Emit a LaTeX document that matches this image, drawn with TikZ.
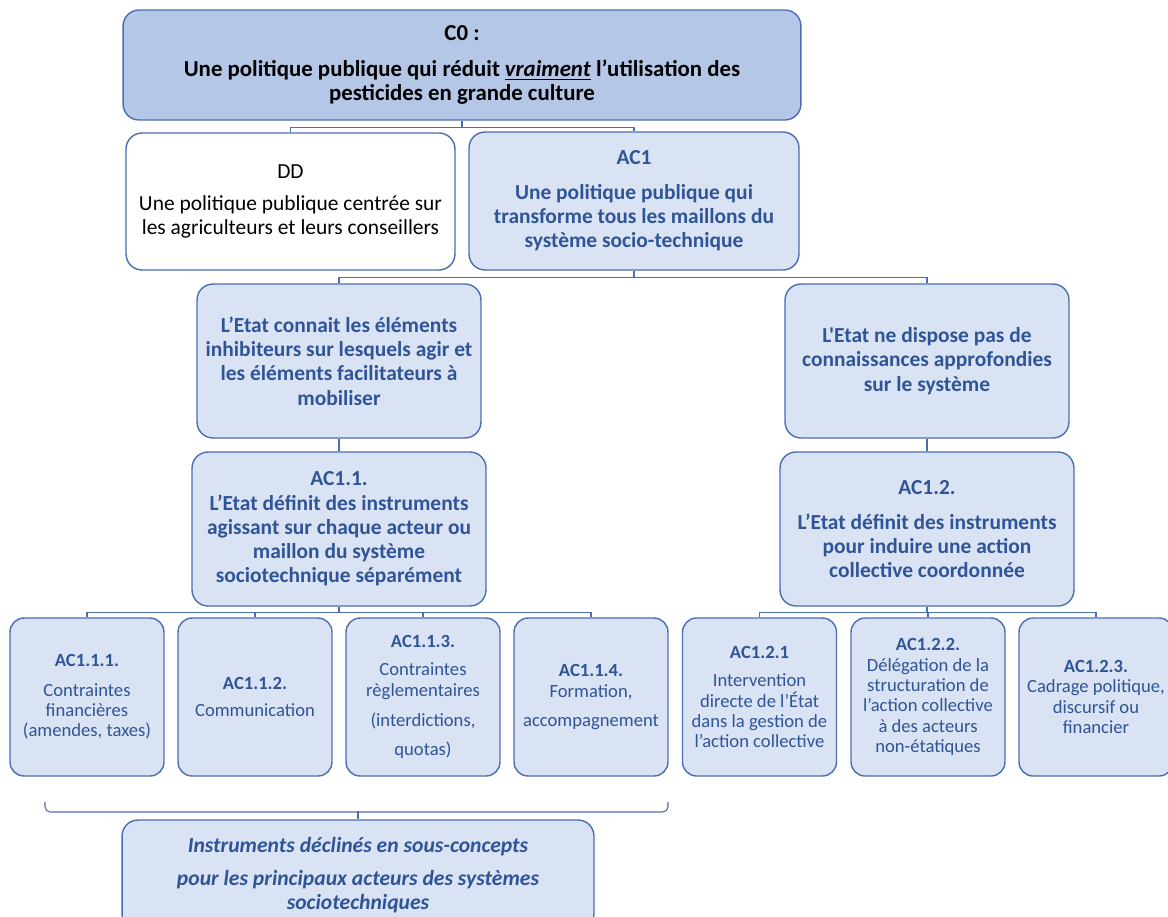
\documentclass[tikz,border=0pt]{standalone}
\usepackage{fontspec}
\setmainfont{Carlito}[Ligatures=TeXOff]
\usepackage{tikz}

\definecolor{boxfill}{HTML}{DAE3F3}
\definecolor{topfill}{HTML}{B4C7E7}
\definecolor{boxline}{HTML}{4A6EB0}
\definecolor{boxtext}{HTML}{2F5597}

\begin{document}
\begin{tikzpicture}[x=0.02cm, y=-0.02cm,
    box/.style={draw=boxline, line width=0.8pt, fill=boxfill, rounded corners=0.32cm,
      align=center, text=boxtext, inner sep=2pt,
      font=\fontsize{12.2}{13.8}\selectfont\bfseries},
    leaf/.style={box, rounded corners=0.28cm, minimum width=3.08cm, minimum height=3.16cm,
      font=\fontsize{10.6}{11.6}\selectfont},
    link/.style={draw=boxline, line width=0.6pt}]
        \useasboundingbox (0,0) rectangle (1168,916);
        \clip (0,0) rectangle (1168,916);

        % Draw boxes

        \node[box, fill=topfill, text=black, minimum width=13.56cm, minimum height=2.2cm,
          font=\fontsize{13}{13.8}\selectfont\bfseries] (C0) at (462,65)
          {C0 :\\[7pt] Une politique publique qui réduit \underline{\textit{vraiment}} l’utilisation des\\ pesticides en grande culture};
        \node[box, fill=white, text=black, minimum width=6.58cm, minimum height=2.74cm,
          font=\fontsize{12.2}{14}\selectfont] (DD) at (290.5,201.5)
          {DD\\[4pt] Une politique publique centrée sur\\ les agriculteurs et leurs conseillers};
        \node[box, minimum width=6.6cm, minimum height=2.76cm] (AC1) at (634,201)
          {AC1\\[6pt] Une politique publique qui\\ transforme tous les maillons du\\ système socio-technique};

        \node[box, minimum width=5.68cm, minimum height=3.08cm] (know) at (339,361)
          {L’Etat connait les éléments\\ inhibiteurs sur lesquels agir et\\ les éléments facilitateurs à\\ mobiliser};
        \node[box, minimum width=5.68cm, minimum height=3.08cm] (noknow) at (927,361)
          {L'Etat ne dispose pas de\\ connaissances approfondies\\ sur le système};

        \node[box, minimum width=5.88cm, minimum height=3.08cm] (AC11) at (339,529)
          {AC1.1.\\ L’Etat définit des instruments\\ agissant sur chaque acteur ou\\ maillon du système\\ sociotechnique séparément};
        \node[box, minimum width=5.88cm, minimum height=3.08cm] (AC12) at (927,529)
          {AC1.2.\\[6pt] L’Etat définit des instruments\\ pour induire une action\\ collective coordonnée};

        \node[leaf] (AC111) at (87,697)
          {\textbf{AC1.1.1.}\\[5pt] Contraintes\\ financières\\ (amendes, taxes)};
        \node[leaf] (AC112) at (255,697)
          {\textbf{AC1.1.2.}\\[4pt] Communication};
        \node[leaf] (AC113) at (423,697)
          {\textbf{AC1.1.3.}\\[4.5pt] Contraintes\\ règlementaires\\[5.5pt] (interdictions,\\[5pt] quotas)};
        \node[leaf] (AC114) at (591,697)
          {\textbf{AC1.1.4.}\\ Formation,\\[5pt] accompagnement};
        \node[leaf] (AC121) at (759.5,697)
          {\textbf{AC1.2.1}\\[4.5pt] Intervention\\ directe de l’État\\ dans la gestion de\\ l’action collective};
        \node[leaf] (AC122) at (928,697)
          {\textbf{AC1.2.2.}\\ Délégation de la\\ structuration de\\ l’action collective\\ à des acteurs\\ non-étatiques};
        \node[leaf] (AC123) at (1096,697)
          {\textbf{AC1.2.3.}\\ Cadrage politique,\\ discursif ou\\ financier};

        \node[box, minimum width=9.44cm, minimum height=2.2cm,
          font=\fontsize{12.3}{13.6}\selectfont\bfseries\itshape] (instr) at (358,875)
          {Instruments déclinés en sous-concepts\\[5pt] pour les principaux acteurs des systèmes\\ sociotechniques};

        % Draw connectors
        \draw[link] (C0.south) -- ++(0,7) -| (DD.north);
        \draw[link] (C0.south) -- ++(0,7) -| (AC1.north);
        \draw[link] (AC1.south) -- ++(0,7) -| (know.north);
        \draw[link] (AC1.south) -- ++(0,7) -| (noknow.north);
        \draw[link] (know) -- (AC11);
        \draw[link] (noknow) -- (AC12);
        \foreach \leafname in {AC111, AC112, AC113, AC114}
          \draw[link] (AC11.south) -- ++(0,6) -| (\leafname.north);
        \foreach \leafname in {AC121, AC122, AC123}
          \draw[link] (AC12.south) -- ++(0,6) -| (\leafname.north);

        % Brace under the first four instruments
        \coordinate (braceL) at (45,802);
        \coordinate (braceR) at (668,802);
        \draw[link, rounded corners=3] (braceL) -- ++(0,10) -| (braceR);
        \draw[link] (instr.north) -- ++(0,-8);
\end{tikzpicture}
\end{document}
